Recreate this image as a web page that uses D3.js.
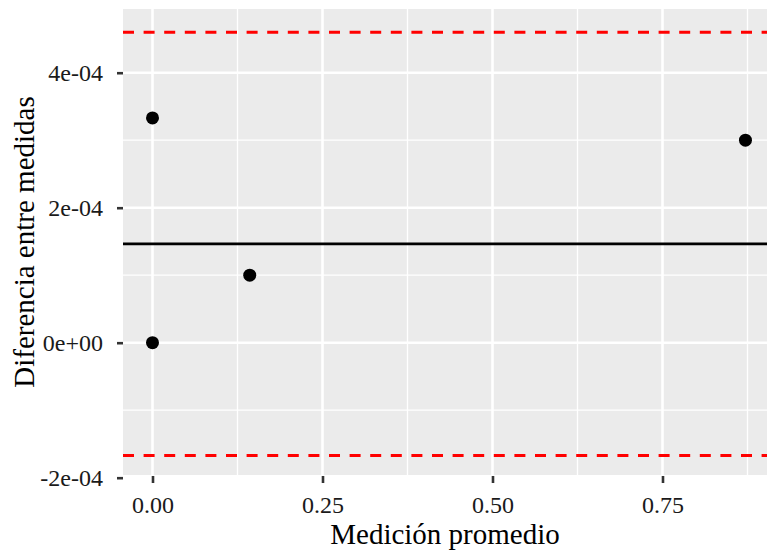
<!DOCTYPE html>
<html>
<head>
<meta charset="utf-8">
<script src="https://cdn.jsdelivr.net/npm/d3@7"></script>
<style>
  html, body { margin: 0; padding: 0; background: #fff; }
  svg { display: block; }
  svg text { font-family: "Liberation Serif", "Times New Roman", serif; }
</style>
</head>
<body>
<svg id="chart" width="767" height="555"></svg>
<script>
// ---- data ----
const avgMeasure = [0, 0, 0.143, 0.872];
const diffMeasure = [3.33e-4, 0, 1.0e-4, 3.0e-4];
const meanDiff = 1.465e-4;
const upperLimit = 4.6e-4;
const lowerLimit = -1.67e-4;
const xTicks = [0, 0.25, 0.5, 0.75];
const xTickLabels = ["0.00", "0.25", "0.50", "0.75"];
const xMinor = [0.125, 0.375, 0.625, 0.875];
const yTicks = [4e-4, 2e-4, 0, -2e-4];
const yTickLabels = ["4e-04", "2e-04", "0e+00", "-2e-04"];
const yMinor = [3e-4, 1e-4, -1e-4];
const xTitle = "Medición promedio";
const yTitle = "Diferencia entre medidas";

// ---- layout ----
const W = 767, H = 555;
const panel = { left: 123, right: 767, top: 9, bottom: 475 };
const font = '"Liberation Serif", "Times New Roman", serif';

const x = d3.scaleLinear()
  .domain([-0.04338, 0.90368])
  .range([panel.left, panel.right]);
const y = d3.scaleLinear()
  .domain([-1.96e-4, 4.944e-4])
  .range([panel.bottom, panel.top]);

const svg = d3.select("#chart");

svg.append("defs").append("clipPath").attr("id", "clip")
  .append("rect")
  .attr("x", panel.left).attr("y", panel.top)
  .attr("width", panel.right - panel.left)
  .attr("height", panel.bottom - panel.top);

// panel background
svg.append("rect")
  .attr("x", panel.left).attr("y", panel.top)
  .attr("width", panel.right - panel.left)
  .attr("height", panel.bottom - panel.top)
  .attr("fill", "#EBEBEB");

const grid = svg.append("g").attr("clip-path", "url(#clip)");

// minor grid
grid.selectAll("line.xminor").data(xMinor).join("line")
  .attr("x1", d => x(d)).attr("x2", d => x(d))
  .attr("y1", panel.top).attr("y2", panel.bottom)
  .attr("stroke", "#fff").attr("stroke-width", 1.3);
grid.selectAll("line.yminor").data(yMinor).join("line")
  .attr("y1", d => y(d)).attr("y2", d => y(d))
  .attr("x1", panel.left).attr("x2", panel.right)
  .attr("stroke", "#fff").attr("stroke-width", 1.3);
// major grid
grid.selectAll("line.xmajor").data(xTicks).join("line")
  .attr("x1", d => x(d)).attr("x2", d => x(d))
  .attr("y1", panel.top).attr("y2", panel.bottom)
  .attr("stroke", "#fff").attr("stroke-width", 2.6);
grid.selectAll("line.ymajor").data(yTicks).join("line")
  .attr("y1", d => y(d)).attr("y2", d => y(d))
  .attr("x1", panel.left).attr("x2", panel.right)
  .attr("stroke", "#fff").attr("stroke-width", 2.6);

// reference lines
const marks = svg.append("g").attr("clip-path", "url(#clip)");
marks.append("line")
  .attr("x1", panel.left).attr("x2", panel.right)
  .attr("y1", y(meanDiff)).attr("y2", y(meanDiff))
  .attr("stroke", "#000").attr("stroke-width", 2.8);
[upperLimit, lowerLimit].forEach(v => {
  marks.append("line")
    .attr("x1", panel.left).attr("x2", panel.right)
    .attr("y1", y(v)).attr("y2", y(v))
    .attr("stroke", "#FF0000").attr("stroke-width", 3)
    .attr("stroke-dasharray", "11 9.6");
});

// points
marks.selectAll("circle").data(avgMeasure.map((a, i) => [a, diffMeasure[i]])).join("circle")
  .attr("cx", d => x(d[0])).attr("cy", d => y(d[1]))
  .attr("r", 6.5).attr("fill", "#000");

// axes
const xAxis = d3.axisBottom(x).tickValues(xTicks)
  .tickFormat((d, i) => xTickLabels[i]).tickSize(7).tickPadding(5);
const gx = svg.append("g").attr("transform", `translate(0,${panel.bottom + 1})`).call(xAxis);
gx.attr("font-family", null).attr("font-size", null);
gx.select(".domain").remove();
gx.selectAll(".tick line").attr("stroke", "#333").attr("stroke-width", 2.6);
gx.selectAll(".tick text")
  .style("font-family", font).style("font-size", "24px")
  .attr("fill", "#1a1a1a").attr("dy", null).attr("y", 37);

const yAxis = d3.axisLeft(y).tickValues(yTicks)
  .tickFormat((d, i) => yTickLabels[i]).tickSize(6).tickPadding(14);
const gy = svg.append("g").attr("transform", `translate(${panel.left},0)`).call(yAxis);
gy.attr("font-family", null).attr("font-size", null);
gy.select(".domain").remove();
gy.selectAll(".tick line").attr("stroke", "#333").attr("stroke-width", 2.6);
gy.selectAll(".tick text")
  .style("font-family", font).style("font-size", "24px")
  .attr("fill", "#1a1a1a").attr("dy", null).attr("x", -20).attr("y", 7.5);

// titles
svg.append("text")
  .attr("x", (panel.left + panel.right) / 2).attr("y", 544)
  .attr("text-anchor", "middle")
  .style("font-family", font).style("font-size", "29px").attr("fill", "#000")
  .text(xTitle);
svg.append("text")
  .attr("transform", `translate(33.5,${(panel.top + panel.bottom) / 2}) rotate(-90)`)
  .attr("text-anchor", "middle")
  .style("font-family", font).style("font-size", "29px").attr("fill", "#000")
  .text(yTitle);
</script>
</body>
</html>
